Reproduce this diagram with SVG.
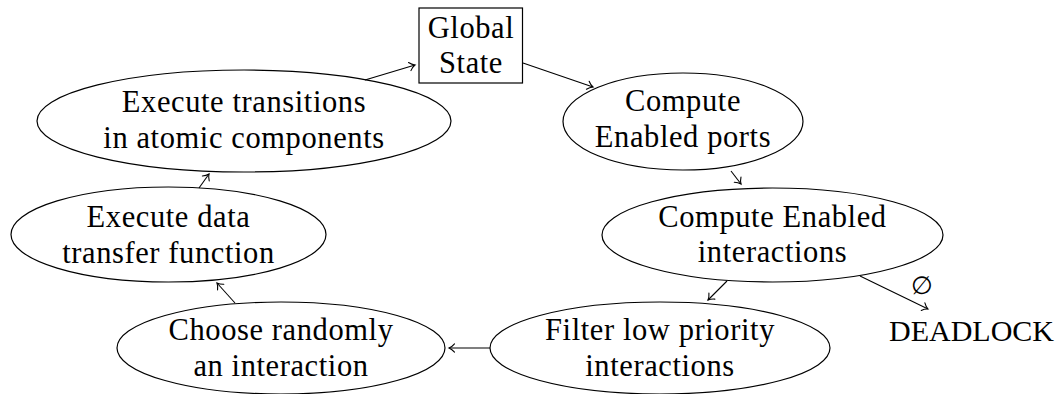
<svg xmlns="http://www.w3.org/2000/svg" width="1060" height="394" viewBox="0 0 1060 394">
<style>
.n{fill:none;stroke:#000;stroke-width:1.2}
.t{font-family:'Liberation Serif',serif;font-size:30.5px;letter-spacing:0.6px;fill:#000;text-anchor:middle}
.c{fill:none;stroke:#000;stroke-width:1.1;marker-end:url(#to)}
</style>
<defs>
<marker id="to" markerUnits="userSpaceOnUse" markerWidth="12" markerHeight="12" viewBox="-7 -6 8 12" refX="0" refY="0" orient="auto">
<path d="M-5.5,-4.2 C-3.5,-1.8 -1.2,-0.5 0,0 C-1.2,0.5 -3.5,1.8 -5.5,4.2" fill="none" stroke="#000" stroke-width="1.1" stroke-linecap="round"/>
</marker>
</defs>
<rect width="1060" height="394" fill="#fff"/>
<g id="global-state">
<rect class="n" x="419" y="8" width="103.5" height="75"/>
<text class="t" x="471" y="38">Global</text>
<text class="t" x="471" y="73">State</text>
</g>
<g id="execute-transitions">
<ellipse class="n" cx="244" cy="121" rx="207" ry="51"/>
<text class="t" x="244" y="112">Execute transitions</text>
<text class="t" x="244" y="148">in atomic components</text>
</g>
<g id="compute-ports">
<ellipse class="n" cx="683" cy="121.5" rx="120" ry="48.5"/>
<text class="t" x="683" y="111">Compute</text>
<text class="t" x="683" y="147">Enabled ports</text>
</g>
<g id="compute-interactions">
<ellipse class="n" cx="772.5" cy="235" rx="170.5" ry="47"/>
<text class="t" x="772.5" y="227">Compute Enabled</text>
<text class="t" x="772.5" y="262">interactions</text>
</g>
<g id="filter">
<ellipse class="n" cx="660" cy="348" rx="170" ry="46"/>
<text class="t" x="660" y="340">Filter low priority</text>
<text class="t" x="660" y="376">interactions</text>
</g>
<g id="choose">
<ellipse class="n" cx="281" cy="348" rx="164" ry="46"/>
<text class="t" x="281" y="340">Choose randomly</text>
<text class="t" x="281" y="376">an interaction</text>
</g>
<g id="data-transfer">
<ellipse class="n" cx="168.5" cy="234.5" rx="157.5" ry="47.5"/>
<text class="t" x="168.5" y="227">Execute data</text>
<text class="t" x="168.5" y="263">transfer function</text>
</g>
<g id="deadlock">
<text class="t" x="971.5" y="341" style="letter-spacing:0;font-size:30px">DEADLOCK</text>
</g>
<g id="connectors">
<line class="c" x1="365" y1="80" x2="415" y2="65"/>
<line class="c" x1="523" y1="63" x2="593" y2="87"/>
<line class="c" x1="731" y1="171" x2="741" y2="184"/>
<line class="c" x1="727" y1="281" x2="708" y2="300"/>
<line class="c" x1="860" y1="276" x2="928" y2="309"/>
<text class="t" x="921.5" y="294" style="font-family:'DejaVu Serif',serif;font-size:25px;letter-spacing:0">∅</text>
<line class="c" x1="490" y1="348" x2="449" y2="348"/>
<line class="c" x1="235" y1="303" x2="217" y2="283"/>
<line class="c" x1="199" y1="188" x2="209" y2="174"/>
</g>
</svg>
